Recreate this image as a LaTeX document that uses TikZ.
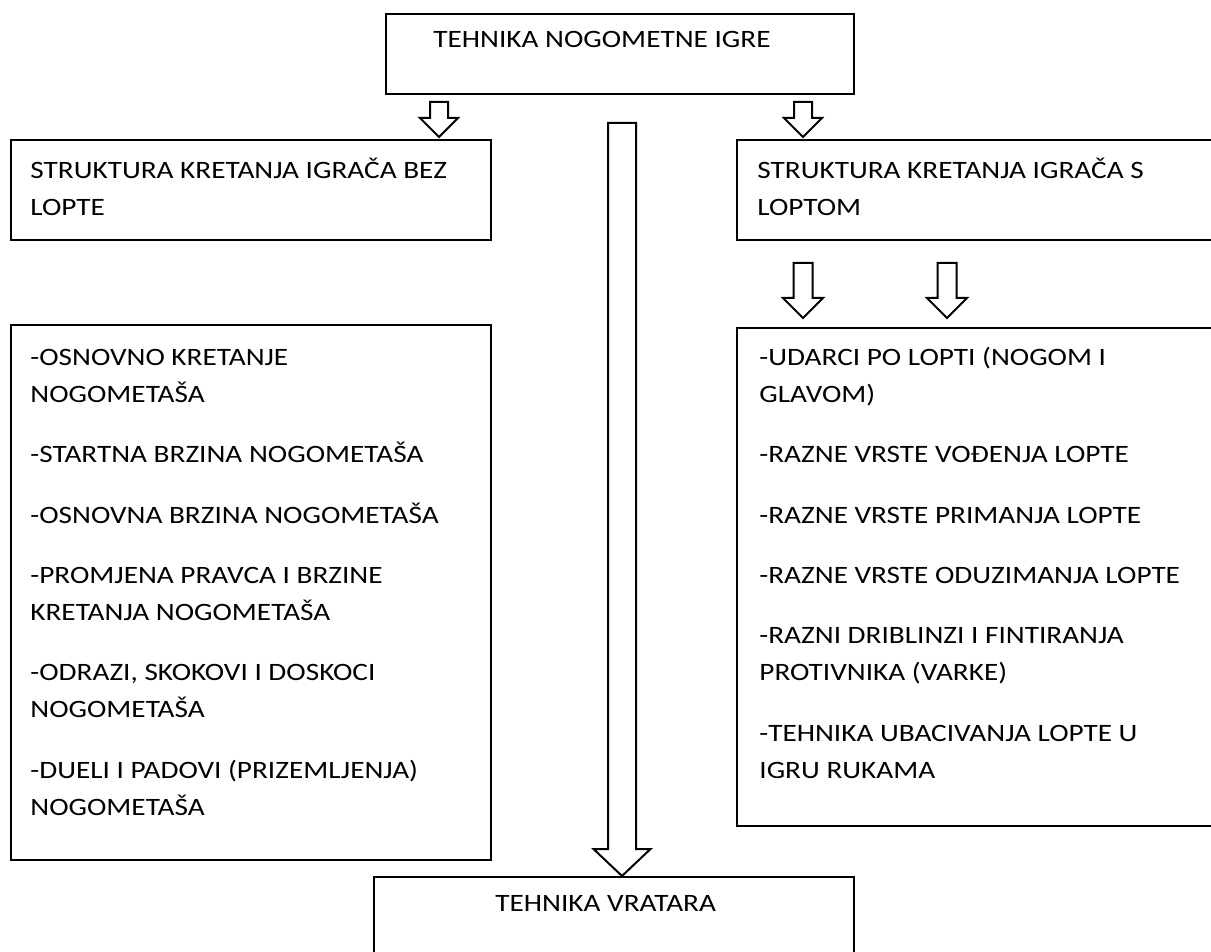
\documentclass[tikz,border=0pt]{standalone}
\usepackage{fontspec}
\setmainfont{Carlito}[FakeStretch=1.17]
\usetikzlibrary{calc}
\tikzset{
  box/.style={draw, line width=1pt, anchor=north west, inner sep=0pt},
  txt/.style={anchor=base west, inner sep=0pt, align=left, font=\fontsize{12.5}{18.5}\selectfont},
  listtxt/.style={txt, text width=240pt, align=flush left},
  arrowline/.style={draw, line width=1pt, line join=miter, fill=white}
}
% hollow block arrow: start, tip, shaft half width, head half width, head length
\newcommand{\hollowarrow}[5]{%
  \draw[arrowline] let \p1=(#1), \p2=(#2) in
    ({\x1-#3},\y1) -- ({\x1+#3},\y1) -- ({\x1+#3},{\y2+#5}) -- ({\x1+#4},{\y2+#5})
    -- (\x2,\y2) -- ({\x1-#4},{\y2+#5}) -- ({\x1-#3},{\y2+#5}) -- cycle;}

\begin{document}
\begin{tikzpicture}[x=0.5pt, y=-0.5pt]
  \useasboundingbox (0,0) rectangle (1211,952);
  \clip (0,0) rectangle (1211,952);
  % boxes
  \node[box, minimum width=234pt, minimum height=40pt] (igra) at (385,13) {};
  \node[box, minimum width=240pt, minimum height=50pt] (bez) at (10,139) {};
  \node[box, minimum width=244pt, minimum height=50pt] (slopt) at (736,139) {};
  \node[box, minimum width=240pt, minimum height=267.5pt] (listL) at (10,324) {};
  \node[box, minimum width=244pt, minimum height=249pt] (listR) at (736,327) {};
  \node[box, minimum width=240pt, minimum height=50pt] (vratar) at (373,876) {};
  % texts
  \node[txt] (tigra) at ([shift={(48,35)}]igra.north west) {TEHNIKA NOGOMETNE IGRE};
  \node[listtxt] (tbez) at ([shift={(20,40)}]bez.north west) {STRUKTURA KRETANJA IGRAČA BEZ\\LOPTE};
  \node[listtxt] (tslopt) at ([shift={(21,40)}]slopt.north west) {STRUKTURA KRETANJA IGRAČA S\\LOPTOM};
  \node[listtxt] (tlistL) at ([shift={(20,41)}]listL.north west) {-OSNOVNO KRETANJE\\NOGOMETAŠA\\[11.75pt]
    -STARTNA BRZINA NOGOMETAŠA\\[11.75pt]
    -OSNOVNA BRZINA NOGOMETAŠA\\[11.75pt]
    -PROMJENA PRAVCA I BRZINE\\KRETANJA NOGOMETAŠA\\[11.75pt]
    -ODRAZI, SKOKOVI I DOSKOCI\\NOGOMETAŠA\\[11.75pt]
    -DUELI I PADOVI (PRIZEMLJENJA)\\NOGOMETAŠA};
  \node[listtxt] (tlistR) at ([shift={(23,38)}]listR.north west) {-UDARCI PO LOPTI (NOGOM I\\GLAVOM)\\[11.75pt]
    -RAZNE VRSTE VOĐENJA LOPTE\\[11.75pt]
    -RAZNE VRSTE PRIMANJA LOPTE\\[11.75pt]
    -RAZNE VRSTE ODUZIMANJA LOPTE\\[11.75pt]
    -RAZNI DRIBLINZI I FINTIRANJA\\PROTIVNIKA (VARKE)\\[11.75pt]
    -TEHNIKA UBACIVANJA LOPTE U\\IGRU RUKAMA};
  \node[txt] (tvratar) at ([shift={(122,35)}]vratar.north west) {TEHNIKA VRATARA};
  % arrows
  \coordinate (a1) at (439,102);
  \coordinate (a1t) at (439,137);
  \coordinate (a2) at (803,102);
  \coordinate (a2t) at (803,137);
  \coordinate (a3) at (803,263);
  \coordinate (a3t) at (803,318);
  \coordinate (a4) at (947,263);
  \coordinate (a4t) at (947,318);
  \coordinate (a5) at (622,123);
  \coordinate (a5t) at (vratar.north -| a5);
  \hollowarrow{a1}{a1t}{4.5pt}{9.5pt}{9.5pt}
  \hollowarrow{a2}{a2t}{4.5pt}{9.5pt}{9.5pt}
  \hollowarrow{a3}{a3t}{4.75pt}{10pt}{10pt}
  \hollowarrow{a4}{a4t}{4.75pt}{10pt}{10pt}
  \hollowarrow{a5}{a5t}{7pt}{14.25pt}{13.5pt}
\end{tikzpicture}
\end{document}
